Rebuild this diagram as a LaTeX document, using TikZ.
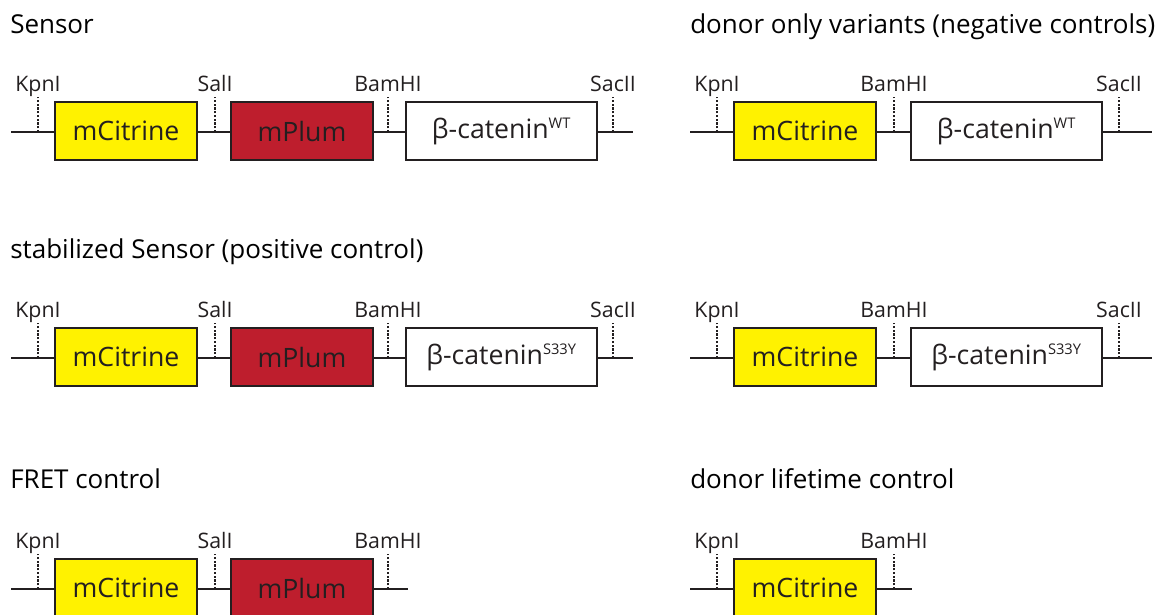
\documentclass[tikz,border=0pt]{standalone}
\usepackage{fontspec}
\setmainfont{Open Sans}
\usepackage{tikz}
\definecolor{citrine}{HTML}{FFF200}
\definecolor{plum}{HTML}{BE1E2D}
\definecolor{ink}{HTML}{231F20}
% one restriction site: name, x, backbone y, label
\newcommand{\site}[4]{%
  \coordinate (#1) at (#2,#3);
  \coordinate (#1-top) at (#2,#3-35);
  \node [site label] (#1-label) at (#2,#3-41) {#4};
  \draw [site line] (#1) -- (#1-top);
}
\newcommand{\catenin}[1]{β-catenin\textsuperscript{\fontsize{11}{11}\selectfont #1}}
\tikzset{
    part/.style={draw=ink,line width=1.1pt,minimum height=43.5pt,inner sep=0pt,
                 font=\fontsize{20}{20}\selectfont,text=ink},
    gene small/.style={part,minimum width=106.5pt},
    gene large/.style={part,minimum width=143.25pt,fill=white},
    backbone/.style={draw=ink,line width=1.1pt},
    site line/.style={draw=ink,line width=0.9pt,dash pattern=on 1.6pt off 1.2pt},
    site label/.style={anchor=base,font=\fontsize{16}{16}\selectfont,text=ink},
    title/.style={anchor=base west,inner sep=0pt,font=\fontsize{19.5}{19.5}\selectfont},
}

\begin{document}
\begin{tikzpicture}[x=0.75pt,y=-0.75pt]
\useasboundingbox (0,0) rectangle (1166,614);

%% Sensor
\node [title] (s-title) at (10,33) {Sensor};
\coordinate (s-start) at (11,132);
\coordinate (s-end) at (633,132);
\node [gene small,fill=citrine] (s-cit) at (126,131) {mCitrine};
\node [gene small,fill=plum] (s-plum) at (302,131) {mPlum};
\node [gene large] (s-cat) at (501.5,131) {\catenin{WT}};
\draw [backbone] (s-start) -- (s-cit.west |- s-start);
\draw [backbone] (s-cit.east |- s-start) -- (s-plum.west |- s-start);
\draw [backbone] (s-plum.east |- s-start) -- (s-cat.west |- s-start);
\draw [backbone] (s-cat.east |- s-start) -- (s-end);
\site{s-kpn}{38}{132}{KpnI}
\site{s-sal}{215}{132}{SalI}
\site{s-bam}{388}{132}{BamHI}
\site{s-sac}{613}{132}{SacII}

%% donor only, wild type
\node [title] (d-title) at (690,33) {donor only variants (negative controls)};
\coordinate (d-start) at (690,132);
\coordinate (d-end) at (1152,132);
\node [gene small,fill=citrine] (d-cit) at (805,131) {mCitrine};
\node [gene large] (d-cat) at (1006.5,131) {\catenin{WT}};
\draw [backbone] (d-start) -- (d-cit.west |- d-start);
\draw [backbone] (d-cit.east |- d-start) -- (d-cat.west |- d-start);
\draw [backbone] (d-cat.east |- d-start) -- (d-end);
\site{d-kpn}{717}{132}{KpnI}
\site{d-bam}{894}{132}{BamHI}
\site{d-sac}{1119}{132}{SacII}

%% stabilized Sensor
\node [title] (st-title) at (10,258) {stabilized Sensor (positive control)};
\coordinate (st-start) at (11,358);
\coordinate (st-end) at (633,358);
\node [gene small,fill=citrine] (st-cit) at (126,357) {mCitrine};
\node [gene small,fill=plum] (st-plum) at (302,357) {mPlum};
\node [gene large] (st-cat) at (501.5,357) {\catenin{S33Y}};
\draw [backbone] (st-start) -- (st-cit.west |- st-start);
\draw [backbone] (st-cit.east |- st-start) -- (st-plum.west |- st-start);
\draw [backbone] (st-plum.east |- st-start) -- (st-cat.west |- st-start);
\draw [backbone] (st-cat.east |- st-start) -- (st-end);
\site{st-kpn}{38}{358}{KpnI}
\site{st-sal}{215}{358}{SalI}
\site{st-bam}{388}{358}{BamHI}
\site{st-sac}{613}{358}{SacII}

%% donor only, S33Y
\coordinate (ds-start) at (690,358);
\coordinate (ds-end) at (1152,358);
\node [gene small,fill=citrine] (ds-cit) at (805,357) {mCitrine};
\node [gene large] (ds-cat) at (1006.5,357) {\catenin{S33Y}};
\draw [backbone] (ds-start) -- (ds-cit.west |- ds-start);
\draw [backbone] (ds-cit.east |- ds-start) -- (ds-cat.west |- ds-start);
\draw [backbone] (ds-cat.east |- ds-start) -- (ds-end);
\site{ds-kpn}{717}{358}{KpnI}
\site{ds-bam}{894}{358}{BamHI}
\site{ds-sac}{1119}{358}{SacII}

%% FRET control
\node [title] (f-title) at (10,488) {FRET control};
\coordinate (f-start) at (11,589);
\coordinate (f-end) at (408,589);
\node [gene small,fill=citrine] (f-cit) at (126,588) {mCitrine};
\node [gene small,fill=plum] (f-plum) at (302,588) {mPlum};
\draw [backbone] (f-start) -- (f-cit.west |- f-start);
\draw [backbone] (f-cit.east |- f-start) -- (f-plum.west |- f-start);
\draw [backbone] (f-plum.east |- f-start) -- (f-end);
\site{f-kpn}{38}{589}{KpnI}
\site{f-sal}{215}{589}{SalI}
\site{f-bam}{388}{589}{BamHI}

%% donor lifetime control
\node [title] (l-title) at (690,488) {donor lifetime control};
\coordinate (l-start) at (690,589);
\coordinate (l-end) at (912,589);
\node [gene small,fill=citrine] (l-cit) at (805,588) {mCitrine};
\draw [backbone] (l-start) -- (l-cit.west |- l-start);
\draw [backbone] (l-cit.east |- l-start) -- (l-end);
\site{l-kpn}{717}{589}{KpnI}
\site{l-bam}{894}{589}{BamHI}

\end{tikzpicture}
\end{document}
